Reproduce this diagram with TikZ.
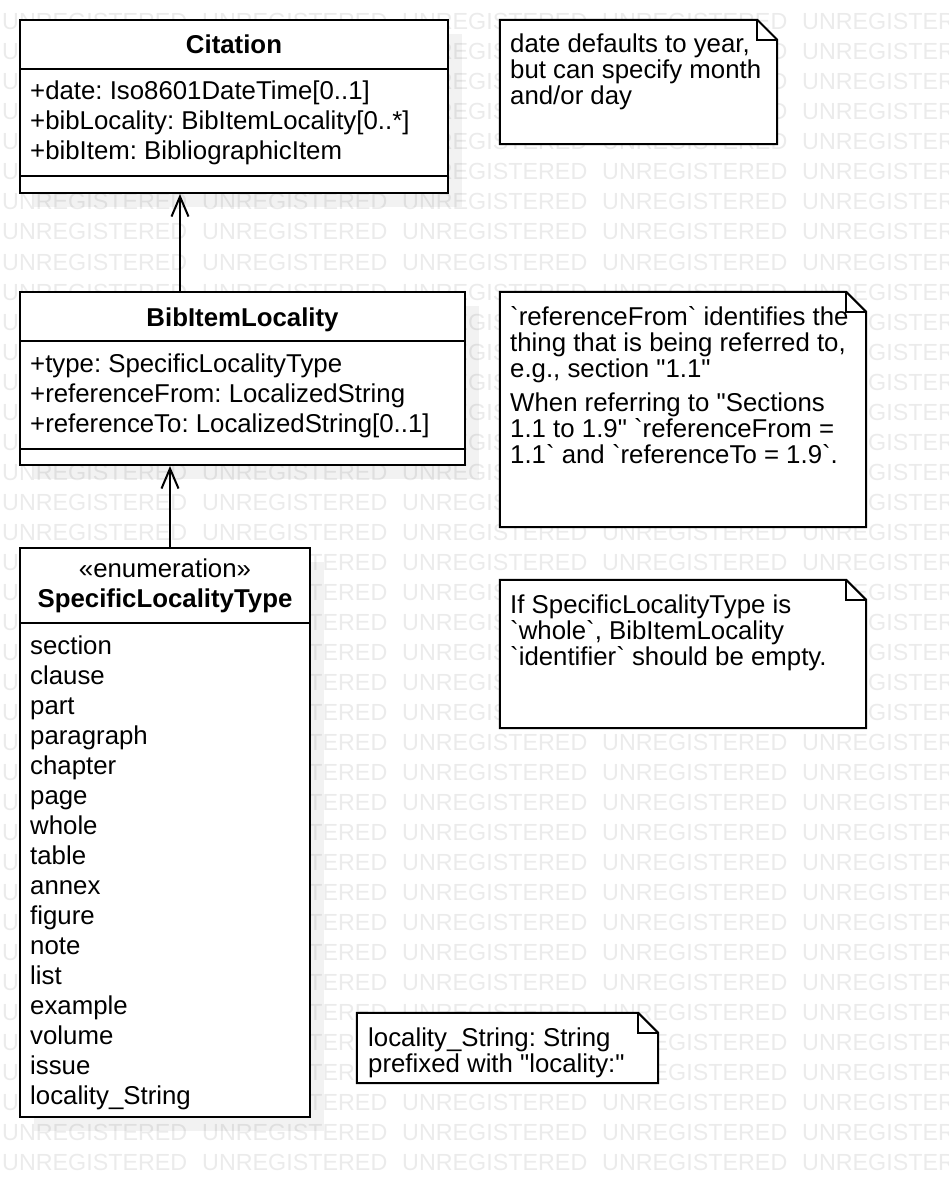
\documentclass[tikz,border=0pt]{standalone}
\usepackage{fontspec}
\setmainfont{Liberation Sans}[Ligatures=TeXOff]
\usetikzlibrary{arrows.meta,shadows}
\frenchspacing

% folded-corner outline for a UML note node
\newcommand{\notefold}[1]{%
  \draw[noteline] (#1.north west) -- ([xshift=-20pt]#1.north east)
    -- ([yshift=-20pt]#1.north east) -- (#1.south east) -- (#1.south west) -- cycle;
  \draw[noteline, fill=none] ([xshift=-20pt]#1.north east) |- ([yshift=-20pt]#1.north east);
}

\begin{document}
\begin{tikzpicture}[
  x=1pt, y=-1pt,
  watermark/.style={anchor=base west, inner sep=0pt, text=black!8, font=\fontsize{23.3pt}{23pt}\selectfont},
  classbox/.style={draw, line width=2pt, fill=white, inner sep=0pt,
    drop shadow={shadow xshift=14pt, shadow yshift=-14pt, fill=black, opacity=0.05}},
  classname/.style={anchor=base, inner sep=0pt, font=\fontsize{25.8pt}{30pt}\selectfont\bfseries},
  stereotype/.style={anchor=base, inner sep=0pt, font=\fontsize{25.8pt}{30pt}\selectfont},
  attr/.style={anchor=base west, inner sep=0pt, font=\fontsize{25.8pt}{30pt}\selectfont},
  notebox/.style={inner sep=0pt},
  notetext/.style={anchor=base west, inner sep=0pt, font=\fontsize{25.8pt}{26pt}\selectfont},
  noteline/.style={draw, line width=2pt, fill=white},
  sepline/.style={line width=2pt},
  assoc/.style={line width=2pt, -{Straight Barb[length=20pt, width=17pt]}}
]
  \useasboundingbox (0,0) rectangle (948,1198);

  % Watermark
  \foreach \r in {0,...,39}
    \foreach \c in {0,...,4}
      \node[watermark] (wm-\r-\c) at ({2+200*\c},{1170-30*\r}) {UNREGISTERED};

  % Classes
  \node[classbox, minimum width=428pt, minimum height=173pt] (cit) at (234,106.5) {};
  \node[classbox, minimum width=445pt, minimum height=173pt] (bil) at (242.5,378.5) {};
  \node[classbox, minimum width=290pt, minimum height=569pt] (slt) at (165,832.5) {};

  \draw[sepline] ([yshift=-50pt]cit.north west) -- ([yshift=-50pt]cit.north east);
  \draw[sepline] ([yshift=18pt]cit.south west) -- ([yshift=18pt]cit.south east);
  \draw[sepline] ([yshift=-50pt]bil.north west) -- ([yshift=-50pt]bil.north east);
  \draw[sepline] ([yshift=17pt]bil.south west) -- ([yshift=17pt]bil.south east);
  \draw[sepline] ([yshift=-76pt]slt.north west) -- ([yshift=-76pt]slt.north east);

  \node[classname] (cit-name) at (234,54) {Citation};
  \node[attr] (cit-a1) at (30,100) {+date: Iso8601DateTime[0..1]};
  \node[attr] (cit-a2) at (30,130) {+bibLocality: BibItemLocality[0..*]};
  \node[attr] (cit-a3) at (30,160) {+bibItem: BibliographicItem};

  \node[classname] (bil-name) at (242.5,326) {BibItemLocality};
  \node[attr] (bil-a1) at (30,372) {+type: SpecificLocalityType};
  \node[attr] (bil-a2) at (30,402) {+referenceFrom: LocalizedString};
  \node[attr] (bil-a3) at (30,432) {+referenceTo: LocalizedString[0..1]};

  \node[stereotype] (slt-st) at (165,577) {«enumeration»};
  \node[classname] (slt-name) at (165,607) {SpecificLocalityType};
  \foreach \lit [count=\k] in {section, clause, part, paragraph, chapter, page, whole,
      table, annex, figure, note, list, example, volume, issue, locality\_String}
    \node[attr] (lit-\k) at (30,{654+30*(\k-1)}) {\lit};

  % Associations
  \coordinate (ax1) at (180,0);
  \coordinate (ax2) at (170,0);
  \draw[assoc] (ax1 |- bil.north) -- (ax1 |- cit.south);
  \draw[assoc] (ax2 |- slt.north) -- (ax2 |- bil.south);

  % Notes
  \node[notebox, minimum width=277pt, minimum height=124pt] (note1) at (638.5,82) {};
  \node[notebox, minimum width=366pt, minimum height=235pt] (note2) at (683,409.5) {};
  \node[notebox, minimum width=366pt, minimum height=148pt] (note3) at (683,654) {};
  \node[notebox, minimum width=301pt, minimum height=70pt] (note4) at (507.5,1048) {};
  \notefold{note1}
  \notefold{note2}
  \notefold{note3}
  \notefold{note4}

  \foreach \txt [count=\k] in {{date defaults to year,}, {but can specify month}, {and/or day}}
    \node[notetext] (n1-\k) at (510,{53+26*(\k-1)}) {\txt};
  \foreach \txt [count=\k] in {{`referenceFrom` identifies the}, {thing that is being referred to,},
      {e.g., section "1.1"}}
    \node[notetext] (n2-\k) at (510,{325+26*(\k-1)}) {\txt};
  \foreach \txt [count=\k] in {{When referring to "Sections}, {1.1 to 1.9" `referenceFrom =},
      {1.1` and `referenceTo = 1.9`.}}
    \node[notetext] (n2b-\k) at (510,{411+26*(\k-1)}) {\txt};
  \foreach \txt [count=\k] in {{If SpecificLocalityType is}, {`whole`, BibItemLocality},
      {`identifier` should be empty.}}
    \node[notetext] (n3-\k) at (510,{613+26*(\k-1)}) {\txt};
  \node[notetext] (n4-1) at (368,1046) {locality\_String: String};
  \node[notetext] (n4-2) at (368,1072) {prefixed with "locality:"};
\end{tikzpicture}
\end{document}
